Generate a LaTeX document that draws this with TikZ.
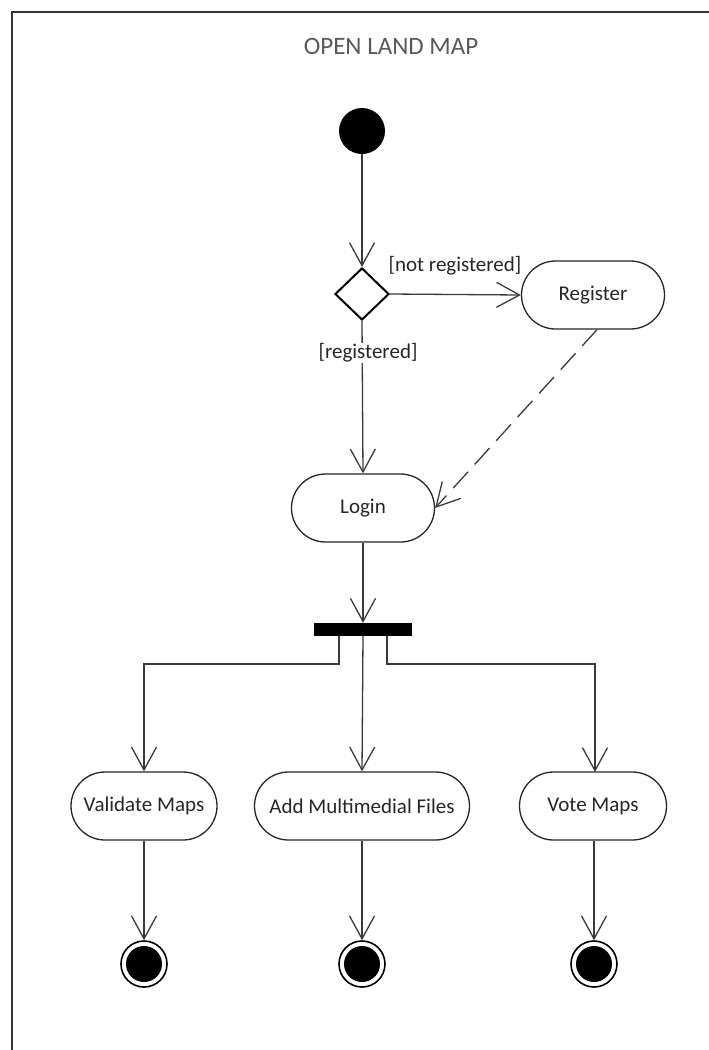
\documentclass[tikz,border=0pt]{standalone}
\usepackage{fontspec}
\setmainfont{Carlito}
\usetikzlibrary{shapes.geometric,arrows.meta}
\definecolor{framegray}{HTML}{333333}
\definecolor{linegray}{HTML}{3A3A3A}
\definecolor{titlegray}{HTML}{595959}
\tikzset{
  every node/.style={font=\fontsize{21}{25}\selectfont, text=black!85},
  action/.style={draw=black!85, line width=1.3pt, rounded corners=34pt,
    minimum height=68pt, minimum width=143pt, inner sep=0pt, fill=white},
  initialnode/.style={circle, fill=black, minimum size=46pt, inner sep=0pt},
  finalnode/.style={circle, draw=black, line width=1.6pt, fill=white,
    minimum size=46pt, inner sep=0pt,
    path picture={\fill[black] (path picture bounding box.center) circle (18pt);}},
  decision/.style={diamond, draw=black, line width=2pt, minimum width=54pt,
    minimum height=52pt, inner sep=0pt, fill=white},
  forkbar/.style={rectangle, fill=black, minimum width=98pt, minimum height=13pt, inner sep=0pt},
  flow/.style={draw=linegray, line width=1.3pt,
    -{Straight Barb[length=23pt,width=25pt,line width=1.3pt]}},
  guard/.style={fill=white, inner sep=1pt}
}
\begin{document}
\begin{tikzpicture}[x=1pt,y=-1pt]
  \useasboundingbox (0,0) rectangle (709,1050);
  % outer frame: its right and bottom sides lie beyond the page
  \begin{scope}
    \clip (0,0) rectangle (709,1050);
    \draw[framegray, line width=2.5pt] (12,1100) -- (12,12) -- (760,12);
  \end{scope}

  \node[font=\fontsize{25}{30}\selectfont, text=titlegray] (title) at (391,46) {OPEN LAND MAP};

  \node[initialnode] (start) at (362,131) {};
  \node[decision] (dec) at (362,294) {};
  \node[action] (register) at (593,295) {Register};
  \node[action] (login) at (363,508) {Login};
  \node[forkbar] (fork) at (363,629.5) {};
  \node[action, minimum width=146pt] (validate) at (144,806) {Validate Maps};
  \node[action, minimum width=215pt] (addfiles) at (362,806) {Add Multimedial Files};
  \node[action, minimum width=147pt] (vote) at (593,806) {Vote Maps};
  \node[finalnode] (endA) at (144,964) {};
  \node[finalnode] (endB) at (362,964) {};
  \node[finalnode] (endC) at (594,964) {};

  \coordinate (forkL) at (339,636);
  \coordinate (forkR) at (387,636);

  % control flow
  \draw[flow] (start) -- (dec.north);
  \draw[flow] (dec.east) -- (register.west);
  \node (nreg) at (455,266) {[not registered]};
  \draw[flow] (dec.south) -- (login.north);
  \node[guard] (reg) at (368,353) {[registered]};
  \draw[flow, dash pattern=on 22pt off 10pt] (register.south) ++(4,0) coordinate (regout) -- (login.east);
  \draw[flow] (login.south) -- (fork.north);
  \draw[flow] (forkL) |- (144,664) -- (validate.north -| 144,0);
  \draw[flow] (fork.south) -- (addfiles.north);
  \draw[flow] (forkR) |- (595,664) -- (595,772);
  \draw[flow] (validate.south -| 144,0) -- (endA);
  \draw[flow] (addfiles.south) -- (endB);
  \draw[flow] (vote.south -| 594,0) -- (endC);
\end{tikzpicture}
\end{document}
